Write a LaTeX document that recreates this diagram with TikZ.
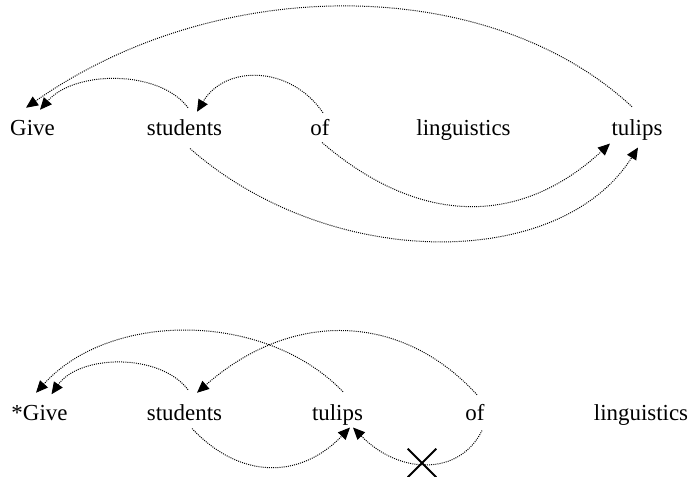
\documentclass[tikz,border=0pt]{standalone}
\usepackage{fontspec}
\setmainfont{Liberation Serif}
\usetikzlibrary{arrows.meta,shapes.misc}

\begin{document}
\begin{tikzpicture}[
    x=0.025cm, y=-0.025cm,
    word/.style={inner sep=0pt, anchor=base, text height=11pt, text depth=3pt, font=\fontsize{16.3}{19}\selectfont},
    link/.style={line width=0.7pt, dash pattern=on 0.7pt off 0.8pt, -{Triangle[length=8.5pt, width=7.5pt]}}
]
\useasboundingbox (0,0) rectangle (688,476);

% well-formed order
\node[word] (giveA) at (32.5,135) {Give};
\node[word] (studA) at (184.5,135) {students};
\node[word] (ofA) at (320,135) {of};
\node[word] (lingA) at (463.5,135) {linguistics};
\node[word] (tulA) at (637,135) {tulips};

% ill-formed order
\node[word] (giveB) at (39.5,420) {*Give};
\node[word] (studB) at (184.5,420) {students};
\node[word] (tulB) at (337.5,420) {tulips};
\node[word] (ofB) at (475,420) {of};
\node[word] (lingB) at (641,420) {linguistics};

\draw[link] ([shift={(-5,-12.5)}]tulA.north) .. controls +(-142,-132) and +(194,-136) .. ([shift={(-6.5,-11.5)}]giveA.north);
\draw[link] ([shift={(3.5,-11.5)}]studA.north) .. controls +(-28,-38) and +(35,-40) .. ([shift={(7.5,-9.5)}]giveA.north);
\draw[link] ([shift={(3,-6.5)}]ofA.north) .. controls +(-33,-48) and +(28,-47) .. ([shift={(12.5,-7.5)}]studA.north);
\draw[link] ([shift={(2,3)}]ofA.south) .. controls +(98,84) and +(-90,83) .. ([shift={(-27,4)}]tulA.south);
\draw[link] ([shift={(5.5,9)}]studA.south) .. controls +(140,123) and +(-78,124) .. ([shift={(1,8)}]tulA.south);

\draw[link] ([shift={(5.5,-12.5)}]tulB.north) .. controls +(-78,-81) and +(74,-82) .. ([shift={(-3.5,-11.5)}]giveB.north);
\draw[link] ([shift={(3.5,-14.5)}]studB.north) .. controls +(-28,-37) and +(28,-40) .. ([shift={(12,-10)}]giveB.north);
\draw[link] ([shift={(2,-9.5)}]ofB.north) .. controls +(-77,-84) and +(93,-82) .. ([shift={(12.5,-11.5)}]studB.north);
\draw[link] ([shift={(7.5,4)}]studB.south) .. controls +(48,51) and +(-50,52) .. ([shift={(12.5,3)}]tulB.south);
\draw[link] ([shift={(7,6)}]ofB.south) .. controls +(-22,45) and +(47,48) .. ([shift={(15.5,3)}]tulB.south);

\node[cross out, draw, line width=1.3pt, minimum size=0.67cm, inner sep=0pt] (block) at (422,463) {};

\end{tikzpicture}
\end{document}
